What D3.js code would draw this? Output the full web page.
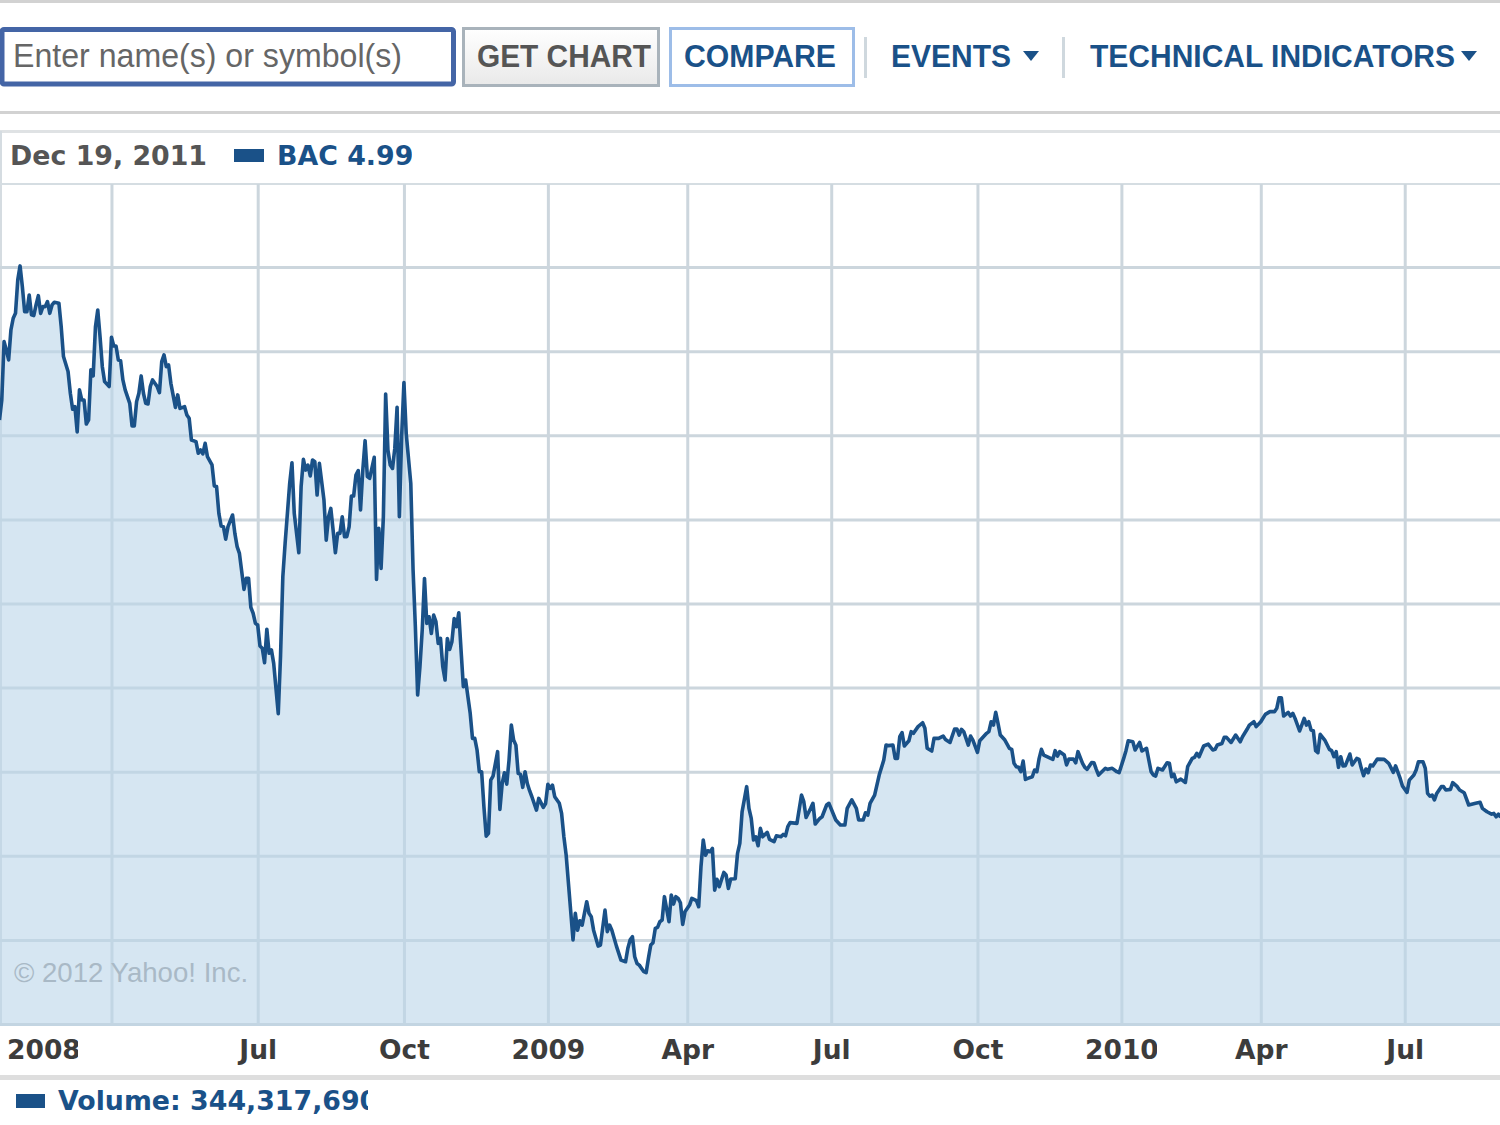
<!DOCTYPE html>
<html>
<head>
<meta charset="utf-8">
<script src="https://cdnjs.cloudflare.com/ajax/libs/d3/7.8.5/d3.min.js"></script>
<style>
    html, body { margin: 0; padding: 0; background: #fff; }
    svg { display: block; }
    .nav { font-family: "Liberation Sans", Arial, sans-serif; font-weight: bold; font-size: 32px; }
    .legend { font-family: "DejaVu Sans", Verdana, sans-serif; font-weight: bold; font-size: 26.8px; }
    .axis text { font-family: "DejaVu Sans", Verdana, sans-serif; font-weight: bold; font-size: 26.5px; fill: #3c3c3c; }
    .axis .domain { display: none; }
    .grid line { stroke: #ccd6dd; stroke-width: 3px; }
</style>
</head>
<body>
<div id="chart"></div>
<script>
// [trading session, close], sessions counted from the left edge
var closes2008 = [
    [0,35.91],[1,37.1],[2,40.57],[3,40.07],[4,39.48],[5,41.26],[6,41.96],[7,42.25],[8,44.24],[9,45.07],
    [10,43.84],[11,42.35],[12,42.35],[13,43.34],[14,42.16],[15,42.12],[16,42.75],[17,43.3],[18,42.25],[19,42.65],
    [20,42.65],[21,42.95],[22,42.25],[23,42.75],[24,42.91],[26,42.85],[27,41.46],[28,39.68],[30,38.79],[31,37.5],
    [32,36.55],[33,36.7],[34,35.2],[35,37.7],[36,37.1],[37,37.1],[38,35.67],[39,35.91],[40,38.9],[41,38.53],
    [42,41.46],[43,42.45],[44,40.87],[45,39.08],[46,38.19],[48,37.9],[49,40.83],[50,40.31],[51,40.31],[52,39.48],
    [53,39.44],[54,38.29],[55,37.7],[57,36.9],[58,35.56],[59,35.56],[60,37.0],[61,37.5],[62,38.53],[63,37.5],
    [64,36.9],[65,36.86],[66,37.9],[67,38.29],[69,37.9],[70,37.54],[71,39.38],[72,39.78],[73,39.08],[74,39.18],
    [75,38.09],[77,36.66],[78,37.4],[79,36.6],[81,36.7],[82,36.21],[83,36.01],[84,34.72],[86,34.62],[87,33.93],
    [88,34.13],[89,33.89],[90,34.52],[91,33.73],[93,33.24],[94,31.99],[95,31.95],[96,30.36],[97,29.61],[98,29.57],
    [99,28.82],[100,29.57],[102,30.26],[103,29.17],[104,28.38],[105,27.98],[107,25.84],[108,26.5],[109,26.5],[110,24.77],
    [111,24.42],[112,23.82],[113,23.72],[114,22.47],[115,22.34],[116,21.48],[117,23.47],[118,22.04],[119,22.24],[120,21.44],
    [122,18.45],[123,21.9],[124,26.6],[125,28.57],[127,32.14],[128,33.37],[129,30.36],[131,28.02],[132,31.94],[133,33.57],
    [134,32.93],[135,33.23],[136,32.58],[137,33.53],[138,33.43],[139,31.45],[140,33.33],[142,31.15],[143,28.77],[144,30.16],
    [145,30.65],[146,29.37],[147,28.02],[148,29.17],[149,29.17],[150,30.16],[151,28.97],[152,28.97],[153,29.56],[154,31.39],
    [155,31.39],[156,32.64],[157,32.9],[158,30.56],[159,32.93],[160,34.68],[161,32.54],[162,32.44],[164,33.69],[165,26.43],
    [166,29.47],[167,27.09],[168,30.16],[169,37.45],[170,34.12],[171,33.23],[172,33.03],[173,34.22],[174,36.66],[175,30.16],
    [176,34.92],[177,38.13],[178,35.1],[180,32.14],[181,26.99],[182,23.62],[183,19.56],[184,21.24],[185,23.42],[186,26.49],
    [187,23.82],[188,24.21],[189,23.22],[190,24.31],[191,23.92],[192,22.63],[193,22.92],[194,21.24],[195,20.45],[196,22.92],
    [197,22.27],[198,22.73],[199,24.11],[200,23.62],[201,24.45],[202,22.23],[203,20.05],[204,20.45],[205,19.46],[206,18.47],
    [207,16.98],[208,16.98],[209,16.29],[210,15.0],[211,15.0],[212,12.92],[213,11.17],[214,11.33],[215,14.5],[216,14.74],
    [218,16.19],[219,12.76],[220,14.3],[221,14.94],[222,14.26],[223,15.69],[224,17.77],[225,16.88],[226,16.58],[227,14.9],
    [228,14.84],[229,14.07],[230,15.0],[231,14.3],[232,13.87],[233,13.51],[235,12.72],[236,13.41],[238,12.88],[239,13.11]
];
var closes2009 = [
    [240,14.25],[241,14.01],[242,14.2],[243,13.51],[245,13.12],[246,12.52],[247,11.13],[248,10.04],[249,8.36],[251,5.0],
    [252,6.58],[253,5.58],[254,6.14],[255,5.88],[257,7.27],[258,6.58],[259,6.38],[260,5.58],[262,4.63],[263,4.69],
    [265,6.77],[266,5.49],[267,5.88],[268,5.58],[270,4.63],[272,3.8],[274,3.7],[275,4.5],[276,5.0],[277,5.19],
    [278,4.0],[279,3.6],[280,3.5],[282,3.11],[283,3.05],[284,3.9],[285,4.69],[286,4.83],[287,5.68],[288,5.74],
    [289,6.08],[290,6.18],[291,7.57],[293,6.08],[294,7.67],[295,7.13],[296,7.57],[297,7.47],[298,7.21],[299,5.92],
    [300,6.67],[302,7.07],[303,7.47],[305,7.33],[306,6.97],[307,9.35],[308,10.94],[309,10.04],[310,10.3],[311,10.24],
    [312,10.44],[313,7.96],[314,8.6],[315,8.16],[317,9.01],[318,8.86],[319,8.06],[320,8.62],[322,8.64],[323,10.14],
    [324,10.74],[325,12.62],[327,14.11],[328,12.82],[329,12.22],[330,10.94],[331,11.13],[332,10.6],[333,11.63],[334,11.13],
    [336,11.39],[337,10.98],[339,10.84],[340,11.19],[342,11.13],[343,11.27],[344,11.19],[345,11.73],[346,11.97],[349,11.93],
    [351,13.61],[352,13.22],[353,12.28],[355,12.82],[356,13.12],[357,11.89],[359,12.22],[360,12.32],[362,13.02],[363,13.12],
    [366,12.13],[368,11.83],[370,11.83],[371,12.82],[373,13.32],[375,12.82],[376,12.13],[378,12.13],[379,12.56],[380,12.42],
    [381,13.12],[383,13.61],[385,14.8],[387,15.69],[388,16.58],[389,16.55],[391,16.58],[392,15.79],[393,15.79],[394,17.08],
    [395,17.32],[396,16.53],[398,16.84],[399,17.38],[400,17.28],[402,17.68],[404,17.91],[405,17.58],[406,16.39],[408,16.23],
    [409,16.98],[411,16.98],[413,17.12],[414,16.92],[416,16.74],[418,17.54],[419,17.54],[420,17.18],[421,17.52],[422,17.38],
    [424,16.58],[425,17.12],[426,16.88],[428,16.15],[429,16.84],[432,17.28],[433,17.38],[434,17.97],[435,17.77],[436,18.53],
    [437,17.87],[438,17.18],[440,16.88],[442,16.39],[443,16.33],[444,15.5],[445,15.3],[446,15.26],[447,15.0],[448,15.63],
    [449,14.54],[450,14.6],[452,14.7],[453,15.1],[454,15.0],[455,15.79],[456,16.33],[457,15.99],[461,15.73],[462,16.25],
    [463,15.93],[464,16.19],[466,15.99],[467,15.4],[468,15.75],[470,15.75],[471,15.53],[472,16.19],[474,15.5],[475,15.26],
    [476,15.14],[478,15.55],[479,15.53],[480,15.14],[481,14.8],[484,15.2],[485,15.14],[487,15.2],[489,15.0],[490,14.94]
];
var closes2010 = [
    [492,15.79],[493,16.25],[494,16.84],[496,16.78],[497,16.29],[499,16.74],[500,16.23],[502,16.39],[504,15.0],[505,14.8],
    [506,14.74],[507,15.2],[509,15.1],[511,15.53],[512,15.5],[513,14.7],[514,14.85],[515,14.4],[517,14.56],[519,14.36],
    [520,15.3],[522,15.79],[523,15.85],[524,16.09],[525,15.89],[527,16.53],[529,16.64],[531,16.29],[532,16.33],[533,16.59],
    [535,16.68],[536,17.04],[537,17.04],[539,16.74],[541,17.18],[543,16.78],[544,17.08],[546,17.52],[547,17.77],[549,17.97],
    [550,17.68],[552,17.97],[554,18.41],[556,18.57],[558,18.57],[559,18.77],[560,19.4],[561,19.4],[562,18.31],[564,18.53],
    [565,18.31],[566,18.47],[567,18.17],[569,17.42],[571,18.17],[572,17.77],[573,17.97],[574,17.48],[575,17.44],[576,16.25],
    [577,16.13],[578,17.22],[580,16.88],[582,16.33],[583,16.25],[584,15.89],[585,16.19],[586,15.26],[587,15.89],[588,15.34],
    [589,15.36],[591,16.05],[592,15.4],[594,15.79],[595,15.73],[596,15.2],[597,14.76],[598,15.16],[599,14.94],[600,15.4],
    [601,15.34],[603,15.75],[606,15.73],[608,15.5],[610,14.96],[611,15.34],[613,14.6],[614,14.15],[616,13.77],[617,14.5],
    [619,14.8],[620,15.1],[621,15.59],[623,15.59],[624,15.2],[625,13.71],[626,13.55],[627,13.61],[628,13.32],[629,13.71],
    [631,14.11],[632,14.11],[633,13.91],[635,13.95],[636,14.35],[638,14.11],[639,13.91],[641,13.75],[643,13.02],[646,13.12],
    [648,13.18],[649,12.82],[651,12.62],[653,12.48],[654,12.52],[655,12.32],[656,12.48],[657,12.3]
];

// the Apr 2008 gridline has no label in the original
var quarterSessions = [49, 113, 177, 240, 301, 364, 428, 491, 552, 615];
var quarterLabels = ["", "Jul", "Oct", "2009", "Apr", "Jul", "Oct", "2010", "Apr", "Jul"];
var firstYearLabel = "2008";
var priceGrid = [5, 10, 15, 20, 25, 30, 35, 40, 45];

var navy = "#1a5188";
var data = closes2008.concat(closes2009, closes2010);

var svg = d3.select("#chart").append("svg")
    .attr("width", 1500)
    .attr("height", 1125);

var defs = svg.append("defs");

var buttonFill = defs.append("linearGradient")
    .attr("id", "button-fill")
    .attr("x1", 0).attr("x2", 0).attr("y1", 0).attr("y2", 1);
buttonFill.append("stop").attr("offset", "0%").attr("stop-color", "#ffffff");
buttonFill.append("stop").attr("offset", "100%").attr("stop-color", "#e9e9e9");

defs.append("clipPath").attr("id", "bac-clip")
    .append("rect").attr("x", 0).attr("y", 130).attr("width", 412).attr("height", 50);
defs.append("clipPath").attr("id", "volume-clip")
    .append("rect").attr("x", 0).attr("y", 1082).attr("width", 368).attr("height", 43);

// the year labels are cut off on their right side in the original
var labelClip = defs.append("clipPath").attr("id", "label-clip");
[[0, 78], [85, 584], [592, 1157], [1165, 1500]].forEach(function(d) {
    labelClip.append("rect")
        .attr("x", d[0]).attr("y", 1026)
        .attr("width", d[1] - d[0]).attr("height", 48);
});

/* page furniture above the chart */

function hRule(y, h, color) {
    svg.append("rect").attr("x", 0).attr("y", y).attr("width", 1500).attr("height", h).attr("fill", color);
}

// nav text is squeezed to the widths in the original, its glyphs are narrower than Liberation
function navText(x, w, color, label) {
    svg.append("text").attr("class", "nav")
        .attr("x", x).attr("y", 67)
        .attr("textLength", w)
        .attr("lengthAdjust", "spacingAndGlyphs")
        .attr("fill", color)
        .text(label);
}

hRule(0, 3, "#d2d2d2");
hRule(111, 3, "#d2d2d2");
hRule(130, 3, "#dfe2e4");
hRule(1075, 5, "#dedede");

svg.append("rect")
    .attr("x", 2).attr("y", 29.5).attr("width", 451.5).attr("height", 54.5).attr("rx", 2)
    .attr("fill", "#fff").attr("stroke", "#4465a6").attr("stroke-width", 5);
svg.append("text")
    .attr("x", 13).attr("y", 67)
    .style("font-family", "'Liberation Sans', Arial, sans-serif")
    .style("font-size", "34px")
    .attr("textLength", 389)
    .attr("lengthAdjust", "spacingAndGlyphs")
    .attr("fill", "#666")
    .text("Enter name(s) or symbol(s)");

svg.append("rect")
    .attr("x", 463.5).attr("y", 28.5).attr("width", 195).attr("height", 57)
    .attr("fill", "url(#button-fill)").attr("stroke", "#a9b3bb").attr("stroke-width", 3);
navText(477, 174, "#555", "GET CHART");

svg.append("rect")
    .attr("x", 670.5).attr("y", 28.5).attr("width", 183).attr("height", 57)
    .attr("fill", "#fff").attr("stroke", "#9dbde8").attr("stroke-width", 3);
navText(684, 152, navy, "COMPARE");

[865, 1063].forEach(function(x) {
    svg.append("rect").attr("x", x - 1).attr("y", 37).attr("width", 3).attr("height", 41).attr("fill", "#cfd8de");
});

navText(891, 120, navy, "EVENTS");
navText(1090, 365, navy, "TECHNICAL INDICATORS");

svg.selectAll("path.caret")
    .data([[1023, 51], [1461, 51]])
    .enter().append("path")
    .attr("class", "caret")
    .attr("d", function(d) {
        return "M" + d[0] + "," + d[1] + "h16l-8,10z";
    })
    .attr("fill", navy);

svg.append("text").attr("class", "legend")
    .attr("x", 10).attr("y", 165).attr("fill", "#555")
    .text("Dec 19, 2011");
svg.append("rect")
    .attr("x", 234).attr("y", 149).attr("width", 30).attr("height", 13).attr("fill", navy);
svg.append("text").attr("class", "legend")
    .attr("x", 277).attr("y", 165).attr("fill", navy)
    .attr("clip-path", "url(#bac-clip)")
    .text("BAC 4.99");

/* the chart itself */

var x = d3.scaleLinear().domain([0, 657]).range([-0.5, 1500.7]);
var y = d3.scaleLinear().domain([0, 49.94]).range([1024, 184]);

svg.append("rect").attr("x", 0).attr("y", 131).attr("width", 2).attr("height", 893).attr("fill", "#d5dce1");
hRule(183, 2, "#d5dde2");

var yGrid = d3.axisLeft(y)
    .tickValues(priceGrid)
    .tickSize(-1500)
    .tickFormat("");
svg.append("g").attr("class", "grid axis")
    .call(yGrid);

var xGrid = d3.axisBottom(x)
    .tickValues(quarterSessions)
    .tickSize(-840)
    .tickPadding(0)
    .tickFormat("");
svg.append("g").attr("class", "grid axis")
    .attr("transform", "translate(0,1024)")
    .call(xGrid);

var area = d3.area()
    .x(function(d) { return x(d[0]); })
    .y0(y(0))
    .y1(function(d) { return y(d[1]); });

var line = d3.line()
    .x(function(d) { return x(d[0]); })
    .y(function(d) { return y(d[1]); });

svg.append("path")
    .datum(data)
    .attr("d", area)
    .attr("fill", "rgb(187,213,233)")
    .attr("fill-opacity", 0.6);

svg.append("text")
    .attr("x", 14).attr("y", 982)
    .style("font-family", "'Liberation Sans', Arial, sans-serif")
    .style("font-size", "27.6px")
    .attr("fill", "#a9b9c6")
    .text("\u00a9 2012 Yahoo! Inc.");

svg.append("path")
    .datum(data)
    .attr("d", line)
    .attr("fill", "none")
    .attr("stroke", navy)
    .attr("stroke-width", 3.6)
    .attr("stroke-linejoin", "round");

hRule(1023, 3, "#c3d5e2");

var xAxis = d3.axisBottom(x)
    .tickValues(quarterSessions)
    .tickSize(0)
    .tickPadding(11)
    .tickFormat(function(d, i) { return quarterLabels[i]; });

// clip sits on an outer group so its rects stay in page coordinates
var labelLayer = svg.append("g").attr("class", "axis")
    .attr("clip-path", "url(#label-clip)");

labelLayer.append("g")
    .attr("transform", "translate(0,1024)")
    .call(xAxis)
    .selectAll("text").attr("dy", "0.9em");

// first year label sits at the left edge, its tick is off the chart
labelLayer.append("text")
    .attr("x", 7).attr("y", 1059)
    .text(firstYearLabel);

svg.append("rect")
    .attr("x", 16).attr("y", 1094).attr("width", 29).attr("height", 14).attr("fill", navy);
svg.append("text").attr("class", "legend")
    .attr("x", 58).attr("y", 1110).attr("fill", navy)
    .attr("clip-path", "url(#volume-clip)")
    .text("Volume: 344,317,690");
</script>
</body>
</html>
